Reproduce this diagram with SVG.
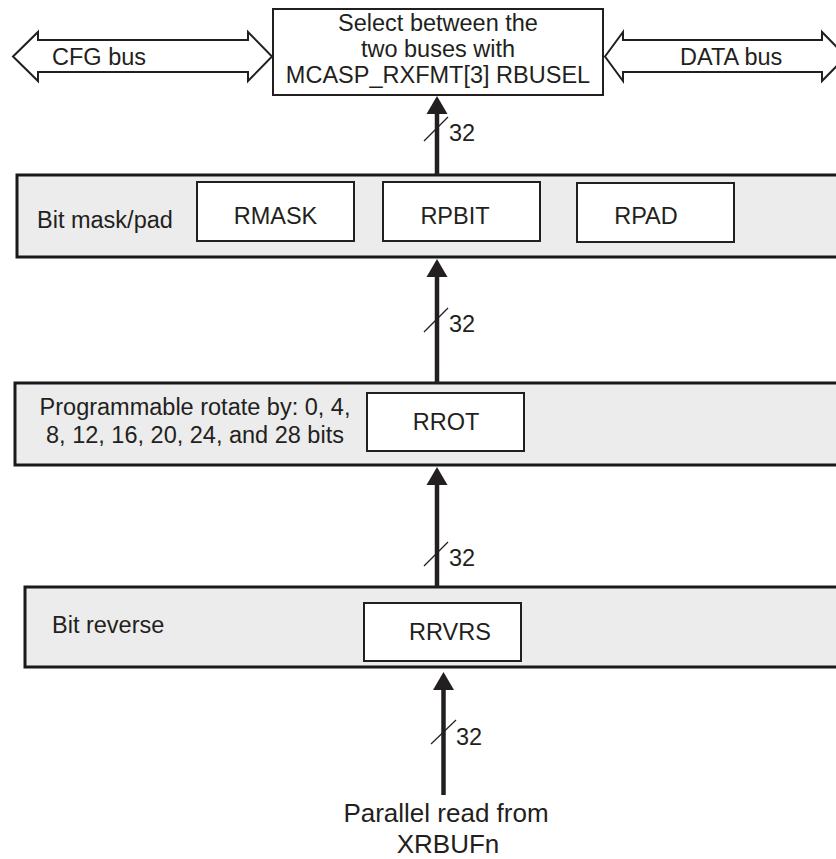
<svg xmlns="http://www.w3.org/2000/svg" width="836" height="859" viewBox="0 0 836 859">
<style>
text{font-family:"Liberation Sans",Arial,sans-serif;font-size:23.5px;fill:#231f20}
.big{font-size:26px}
.outer{fill:#ececec;stroke:#1a1a1a;stroke-width:3}
.inner{fill:#fff;stroke:#231f20;stroke-width:2}
.bus{fill:#fff;stroke:#231f20;stroke-width:2;stroke-linejoin:miter}
.wire{stroke:#231f20;stroke-width:4.5;fill:none}
.slash{stroke:#231f20;stroke-width:1.2;fill:none}
.head{fill:#231f20}
</style>
<rect width="836" height="859" fill="#fff"/>
<g id="cfg-bus">
<polygon class="bus" points="13,56.5 38,32 38,40 248,40 248,32 272,56.5 248,81 248,72 38,72 38,81"/>
<text x="52" y="65">CFG bus</text>
</g>
<g id="data-bus">
<polygon class="bus" points="605,56.5 623,32 623,40 822,40 822,32 846,56.5 822,81 822,72 623,72 623,81"/>
<text x="680" y="65">DATA bus</text>
</g>
<g id="select">
<rect class="inner" x="273" y="9" width="330" height="86"/>
<text x="438" y="31" text-anchor="middle">Select between the</text>
<text x="438" y="57" text-anchor="middle">two buses with</text>
<text x="438" y="83" text-anchor="middle">MCASP_RXFMT[3] RBUSEL</text>
</g>
<g id="mask-pad">
<rect class="outer" x="17" y="175" width="840" height="82"/>
<text x="37" y="228">Bit mask/pad</text>
<rect class="inner" x="197" y="182" width="157" height="59"/>
<text x="275.5" y="224" text-anchor="middle">RMASK</text>
<rect class="inner" x="383" y="182" width="157" height="59"/>
<text x="455" y="224" text-anchor="middle">RPBIT</text>
<rect class="inner" x="577" y="183" width="157" height="59"/>
<text x="646" y="224" text-anchor="middle">RPAD</text>
</g>
<g id="rotate">
<rect class="outer" x="15" y="383" width="840" height="82"/>
<text x="195" y="415" text-anchor="middle">Programmable rotate by: 0, 4,</text>
<text x="195" y="443" text-anchor="middle">8, 12, 16, 20, 24, and 28 bits</text>
<rect class="inner" x="367" y="393" width="157" height="58"/>
<text x="446" y="430" text-anchor="middle">RROT</text>
</g>
<g id="reverse">
<rect class="outer" x="25" y="587" width="840" height="80"/>
<text x="52" y="633">Bit reverse</text>
<rect class="inner" x="364" y="603" width="157" height="58"/>
<text x="450" y="640" text-anchor="middle">RRVRS</text>
</g>
<g id="source">
<text class="big" x="446" y="822" text-anchor="middle">Parallel read from</text>
<text class="big" x="448" y="853" text-anchor="middle">XRBUFn</text>
</g>
<g id="connectors">
<line class="wire" x1="437" y1="175" x2="437" y2="112"/>
<polygon class="head" points="437,96 447.5,114 426.5,114"/>
<line class="slash" x1="424" y1="141" x2="448" y2="117"/>
<text x="449" y="141">32</text>
<line class="wire" x1="437" y1="383" x2="437" y2="274"/>
<polygon class="head" points="437,259 447.5,277 426.5,277"/>
<line class="slash" x1="424" y1="332" x2="448" y2="308"/>
<text x="449" y="332">32</text>
<line class="wire" x1="437" y1="587" x2="437" y2="482"/>
<polygon class="head" points="437,467 447.5,485 426.5,485"/>
<line class="slash" x1="424" y1="566" x2="448" y2="542"/>
<text x="449" y="566">32</text>
<line class="wire" x1="443.5" y1="795" x2="443.5" y2="688"/>
<polygon class="head" points="443.5,672 454,690 433,690"/>
<line class="slash" x1="431" y1="744" x2="456" y2="720"/>
<text x="456" y="745">32</text>
</g>
</svg>
